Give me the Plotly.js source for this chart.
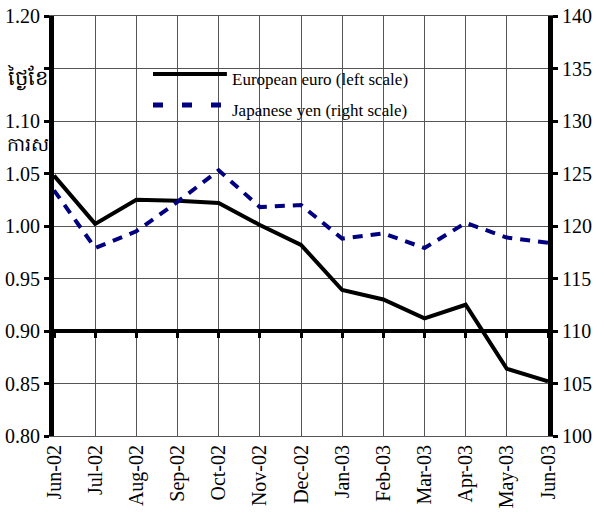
<!DOCTYPE html>
<html>
<head>
<meta charset="utf-8">
<script src="https://cdn.plot.ly/plotly-3.0.1.min.js"></script>
<style>html,body{margin:0;padding:0;background:#fff;}#chart{width:604px;height:518px;}</style>
</head>
<body>
<div id="chart"></div>
<script>
const months = ["Jun-02","Jul-02","Aug-02","Sep-02","Oct-02","Nov-02","Dec-02","Jan-03","Feb-03","Mar-03","Apr-03","May-03","Jun-03"];
const euro = [1.048,1.002,1.025,1.024,1.022,1.001,0.982,0.939,0.930,0.912,0.925,0.864,0.852];
const yen = [123.4,117.9,119.5,122.3,125.3,121.8,122.0,118.8,119.3,117.9,120.3,118.9,118.4];
const leftTicks = [0.80,0.85,0.90,0.95,1.00,1.05,1.10,1.15,1.20];
const leftLabels = ["0.80","0.85","0.90","0.95","1.00","1.05","1.10","","1.20"];
const euroName = "European euro (left scale)";
const yenName = "Japanese yen (right scale)";
const khmerA = "ថ្ងៃខែ";
const khmerB = "ការស";

const serif = '"Liberation Serif", "Times New Roman", "DejaVu Serif", serif';
const gridC = "#555";

const traces = [
  {x: months, y: euro, type: "scatter", mode: "lines", name: euroName,
   line: {color: "#000", width: 4}, xaxis: "x", yaxis: "y", showlegend: false},
  {x: months, y: yen, type: "scatter", mode: "lines", name: yenName,
   line: {color: "#000080", width: 4, dash: "10px,8px"}, xaxis: "x2", yaxis: "y2", showlegend: false}
];

const layout = {
  width: 604, height: 518,
  margin: {l: 54, r: 56, t: 16, b: 82},
  paper_bgcolor: "#fff", plot_bgcolor: "#fff",
  font: {family: serif, color: "#000", size: 20},
  showlegend: false,
  xaxis: {
    type: "category", categoryorder: "array", categoryarray: months,
    range: [0, 12], showgrid: true, gridcolor: gridC, gridwidth: 1,
    showline: true, linecolor: gridC, linewidth: 1, mirror: true,
    ticks: "", tickangle: -90, tickfont: {family: serif, size: 20},
    zeroline: false, fixedrange: true
  },
  xaxis2: {
    type: "category", categoryorder: "array", categoryarray: months,
    range: [0, 12], overlaying: "x", anchor: "free", position: 0.25, side: "bottom",
    showgrid: false, showline: true, linecolor: "#000", linewidth: 4,
    ticks: "outside", ticklen: 5, tickwidth: 3, tickcolor: "#000",
    showticklabels: false, zeroline: false, fixedrange: true
  },
  yaxis: {
    range: [0.8, 1.2], tickmode: "array", tickvals: leftTicks, ticktext: leftLabels,
    showgrid: true, gridcolor: gridC, gridwidth: 1,
    showline: true, linecolor: "#000", linewidth: 5,
    ticks: "outside", ticklen: 5, tickwidth: 3, tickcolor: "#000",
    tickfont: {family: serif, size: 20}, zeroline: false, fixedrange: true
  },
  yaxis2: {
    range: [100, 140], dtick: 5, tick0: 100, overlaying: "y", side: "right", anchor: "x2",
    showgrid: false, showline: true, linecolor: "#000", linewidth: 5,
    ticks: "outside", ticklen: 5, tickwidth: 3, tickcolor: "#000",
    tickfont: {family: serif, size: 20}, zeroline: false, fixedrange: true
  },
  shapes: [
    {type: "rect", xref: "paper", yref: "paper", x0: 0.0992, x1: 0.822, y0: 0.743, y1: 0.895,
     fillcolor: "#fff", line: {width: 0}, layer: "between"},
    {type: "line", xref: "paper", yref: "paper", x0: 0.2004, x1: 0.350, y0: 0.862, y1: 0.862,
     line: {color: "#000", width: 4}},
    {type: "line", xref: "paper", yref: "paper", x0: 0.2004, x1: 0.338, y0: 0.788, y1: 0.788,
     line: {color: "#000080", width: 5, dash: "10px,19px"}}
  ],
  annotations: [
    {xref: "paper", yref: "paper", x: 0.356, y: 0.848, xanchor: "left", yanchor: "middle",
     text: euroName, showarrow: false, font: {family: serif, size: 17, color: "#000"}},
    {xref: "paper", yref: "paper", x: 0.356, y: 0.774, xanchor: "left", yanchor: "middle",
     text: yenName, showarrow: false, font: {family: serif, size: 17, color: "#000"}},
    {xref: "paper", yref: "paper", x: -0.008, y: 0.853, xanchor: "right", yanchor: "middle",
     text: khmerA, showarrow: false, font: {family: serif, size: 21, color: "#000"}},
    {xref: "paper", yref: "paper", x: -0.006, y: 0.695, xanchor: "right", yanchor: "middle",
     text: khmerB, showarrow: false, font: {family: serif, size: 19, color: "#000"}}
  ]
};

Plotly.newPlot("chart", traces, layout, {staticPlot: true, displayModeBar: false});
</script>
</body>
</html>
